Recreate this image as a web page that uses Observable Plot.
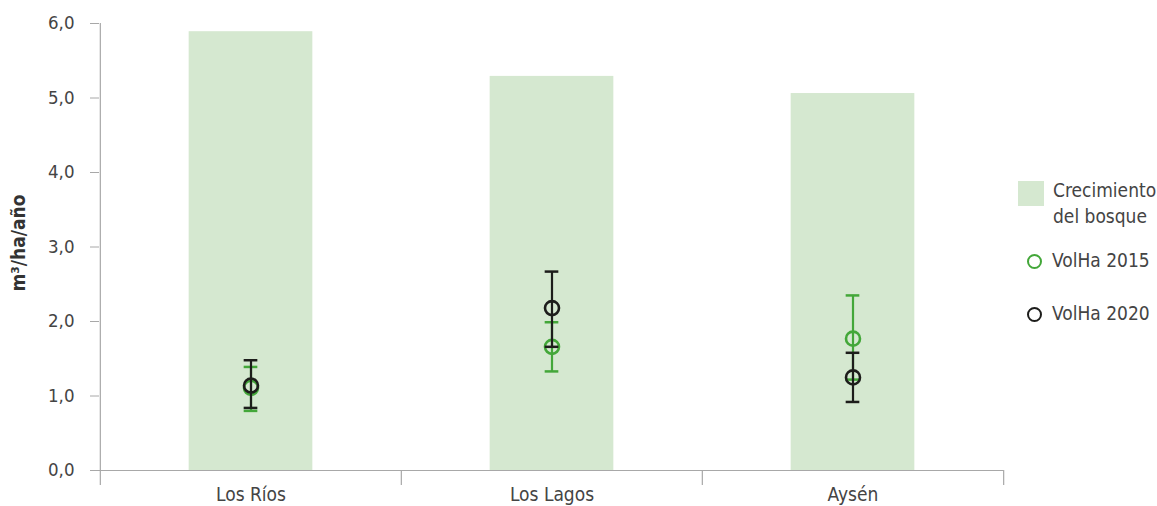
<!DOCTYPE html>
<html>
<head>
<meta charset="utf-8">
<script src="https://cdn.jsdelivr.net/npm/d3@7"></script>
<script src="https://cdn.jsdelivr.net/npm/@observablehq/plot@0.6"></script>
<style>
  html, body { margin: 0; padding: 0; background: #fff; }
  #wrap { position: relative; width: 1157px; height: 506px; font-family: "DejaVu Sans Condensed", "DejaVu Sans", sans-serif; font-stretch: condensed; }
  #legend { position: absolute; left: 1018px; top: 177px; color: #444; font-size: 19px; line-height: 26px; }
  .item { display: flex; align-items: flex-start; }
  .sw { width: 26px; height: 25px; background: #d5e8d0; margin-right: 9px; margin-top: 4px; }
  .circ { width: 11px; height: 11px; border-radius: 50%; border: 2.5px solid; margin: 7px 10px 0 9px; }
</style>
</head>
<body>
<div id="wrap"><div id="chart"></div>
<div id="legend">
  <div class="item" style="margin-bottom:18px"><div class="sw"></div><div>Crecimiento<br>del bosque</div></div>
  <div class="item" style="margin-bottom:27px"><div class="circ" style="border-color:#43a739"></div><div>VolHa 2015</div></div>
  <div class="item"><div class="circ" style="border-color:#1d1d1b"></div><div>VolHa 2020</div></div>
</div>
</div>
<script>
const regions = ["Los Ríos", "Los Lagos", "Aysén"];
const crecimiento = [5.89, 5.29, 5.06];
const vol2015 = [1.11, 1.66, 1.77];
const vol2015Lo = [0.80, 1.33, 1.22];
const vol2015Hi = [1.39, 1.99, 2.35];
const vol2020 = [1.14, 2.18, 1.25];
const vol2020Lo = [0.84, 1.66, 0.92];
const vol2020Hi = [1.48, 2.67, 1.58];
const yTicks = [0, 1, 2, 3, 4, 5, 6];

const W = 1157, H = 506;
const mL = 99, mR = 154, mT = 23, mB = 36;
const bw = (W - mL - mR) / regions.length;
const barW = 124, capW = 14;

const bars = regions.map((r, i) => ({region: r, value: crecimiento[i]}));
const s2015 = regions.map((r, i) => ({region: r, v: vol2015[i], lo: vol2015Lo[i], hi: vol2015Hi[i]}));
const s2020 = regions.map((r, i) => ({region: r, v: vol2020[i], lo: vol2020Lo[i], hi: vol2020Hi[i]}));
const green = "#43a739", black = "#1d1d1b", axisCol = "#a8a8a8";
const font = '"DejaVu Sans Condensed", "DejaVu Sans", sans-serif';

function errMarks(data, color) {
  return [
    Plot.ruleX(data, {x: "region", y1: "lo", y2: "hi", stroke: color, strokeWidth: 2.2}),
    Plot.tickY(data, {x: "region", y: "lo", stroke: color, strokeWidth: 2.5, insetLeft: (bw - capW) / 2, insetRight: (bw - capW) / 2}),
    Plot.tickY(data, {x: "region", y: "hi", stroke: color, strokeWidth: 2.5, insetLeft: (bw - capW) / 2, insetRight: (bw - capW) / 2}),
    Plot.dot(data, {x: "region", y: "v", r: 7, stroke: color, strokeWidth: 2.6, fill: "none"})
  ];
}

const chart = Plot.plot({
  width: W, height: H,
  marginLeft: mL, marginRight: mR, marginTop: mT, marginBottom: mB,
  style: {fontFamily: font, fontSize: "18px", color: "#444", background: "transparent", fontStretch: "condensed"},
  x: {type: "band", domain: regions, padding: 0, axis: null},
  y: {domain: [0, 6], axis: null},
  marks: [
    Plot.barY(bars, {x: "region", y: "value", fill: "#d5e8d0", insetLeft: (bw - barW) / 2, insetRight: (bw - barW) / 2}),
    Plot.axisY(yTicks, {tickSize: 9, stroke: axisCol, tickPadding: 16, tickFormat: d => d.toFixed(1).replace(".", ","), fill: "#444", fontSize: 18.5, label: null}),
    Plot.text(["m³/ha/año"], {frameAnchor: "left", dx: -81, dy: -4, rotate: -90, textAnchor: "middle", fontWeight: "bold", fontSize: 19, fill: "#333"}),
    Plot.ruleY([0], {stroke: axisCol, strokeWidth: 1.2}),
    Plot.ruleX(regions.slice(0, 1), {x: d => d, dx: -bw / 2, y1: 6, y2: -0.2, stroke: axisCol, strokeWidth: 1.2}),
    Plot.ruleX(regions.slice(1), {x: d => d, dx: -bw / 2, y1: 0, y2: -0.2, stroke: axisCol, strokeWidth: 1.2}),
    Plot.ruleX(regions.slice(-1), {x: d => d, dx: bw / 2, y1: 0, y2: -0.2, stroke: axisCol, strokeWidth: 1.2}),
    Plot.axisX(regions, {tickSize: 0, tickPadding: 17, fill: "#444", fontSize: 19, label: null}),
    ...errMarks(s2015, green),
    ...errMarks(s2020, black)
  ]
});
document.getElementById("chart").appendChild(chart);
</script>
</body>
</html>
